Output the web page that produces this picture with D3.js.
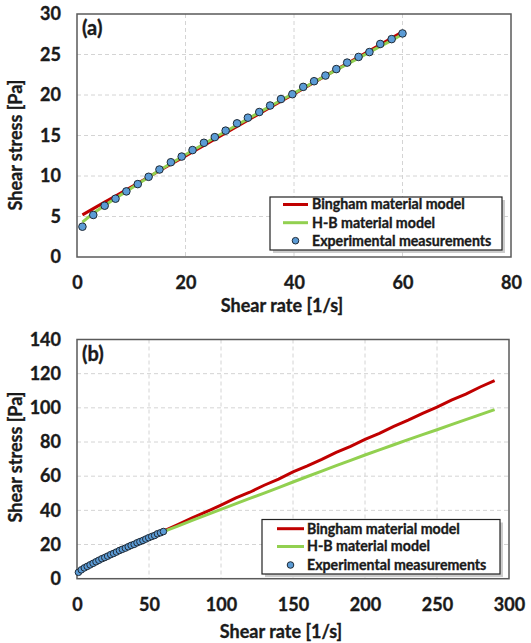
<!DOCTYPE html>
<html>
<head>
<meta charset="utf-8">
<script src="https://cdn.jsdelivr.net/npm/d3@7"></script>
<style>
  html, body { margin: 0; padding: 0; background: #fff; }
  svg text { font-family: Lato, "Open Sans", sans-serif; font-weight: 700; fill: #1a1a1a; stroke: #1a1a1a; stroke-width: 0.35px; }
</style>
</head>
<body>
<svg id="chart" width="531" height="643"></svg>
<script>
// ---- Data ----
const expRate = [1.0, 3.0, 5.1, 7.1, 9.1, 11.2, 13.2, 15.2, 17.3, 19.3, 21.3, 23.4, 25.4, 27.4, 29.5,
                 31.5, 33.6, 35.6, 37.6, 39.7, 41.7, 43.7, 45.8, 47.8, 49.8, 51.9, 53.9, 55.9, 58.0, 60.0];
const expStress = [3.74, 5.19, 6.33, 7.2, 8.1, 9.0, 9.9, 10.8, 11.7, 12.4, 13.2, 14.1, 14.8, 15.6, 16.5,
                   17.2, 17.9, 18.7, 19.5, 20.1, 21.0, 21.7, 22.4, 23.2, 24.0, 24.7, 25.3, 26.3, 26.9, 27.6];

// Model curves, panel (a): evaluated at the measured shear rates
const binghamA = [5.2, 5.97, 6.77, 7.54, 8.31, 9.11, 9.88, 10.64, 11.45, 12.21, 12.98, 13.78, 14.55, 15.31, 16.12,
                  16.88, 17.69, 18.45, 19.22, 20.02, 20.79, 21.56, 22.36, 23.13, 23.89, 24.70, 25.46, 26.23, 27.03, 27.8];
const hbA = [4.3, 5.4, 6.35, 7.25, 8.1, 9.0, 9.85, 10.7, 11.55, 12.35, 13.15, 13.95, 14.75, 15.5, 16.3,
             17.05, 17.85, 18.6, 19.35, 20.1, 20.85, 21.6, 22.35, 23.1, 23.8, 24.55, 25.3, 26.0, 26.75, 27.5];

// Model curves, panel (b): extrapolation beyond measured range
const extRate = [70, 80, 90, 100, 110, 120, 130, 140, 150, 160, 170, 180, 190, 200, 210, 220, 230, 240, 250, 260, 270, 280, 290];
const binghamExt = [31.6, 35.6, 39.2, 43.1, 47.1, 50.6, 54.7, 58.3, 62.5, 66.0, 69.8, 73.9, 77.5, 81.6, 85.1, 89.2, 92.8, 96.8, 100.4, 104.5, 108.0, 112.2, 115.9];
const hbExt = [30.8, 34.1, 37.4, 40.6, 43.8, 47.0, 50.1, 53.3, 56.6, 59.8, 63.0, 66.2, 69.3, 72.4, 75.4, 78.4, 81.4, 84.3, 87.2, 90.2, 93.1, 96.0, 99.0];

const xTicksA = [0, 20, 40, 60, 80];
const yTicksA = [0, 5, 10, 15, 20, 25, 30];
const xTicksB = [0, 50, 100, 150, 200, 250, 300];
const yTicksB = [0, 20, 40, 60, 80, 100, 120, 140];

const legendLabels = ["Bingham material model", "H-B material model", "Experimental measurements"];
const xTitle = "Shear rate [1/s]";
const yTitle = "Shear stress [Pa]";

const RED = "#c00000", GREEN = "#92d050", BLUE = "#5b9bd5";

const svg = d3.select("#chart");

function panel(cfg) {
  const g = svg.append("g");
  const x = d3.scaleLinear().domain(cfg.xDomain).range([cfg.left, cfg.right]);
  const y = d3.scaleLinear().domain(cfg.yDomain).range([cfg.bottom, cfg.top]);

  // grid
  g.append("g").selectAll("line").data(cfg.xTicks.slice(1, -1)).join("line")
    .attr("x1", d => x(d)).attr("x2", d => x(d)).attr("y1", cfg.top).attr("y2", cfg.bottom)
    .attr("stroke", "#d4d4d4").attr("stroke-width", 1).attr("stroke-dasharray", "4,3");
  g.append("g").selectAll("line").data(cfg.yTicks.slice(1, -1)).join("line")
    .attr("x1", cfg.left).attr("x2", cfg.right).attr("y1", d => y(d)).attr("y2", d => y(d))
    .attr("stroke", "#d4d4d4").attr("stroke-width", 1).attr("stroke-dasharray", "4,3");

  // axes (labels only)
  const xa = g.append("g").attr("transform", `translate(0,${cfg.bottom})`)
    .call(d3.axisBottom(x).tickValues(cfg.xTicks).tickSize(0).tickPadding(cfg.xPad));
  const ya = g.append("g").attr("transform", `translate(${cfg.left},0)`)
    .call(d3.axisLeft(y).tickValues(cfg.yTicks).tickSize(0).tickPadding(cfg.yPad));
  [xa, ya].forEach(a => {
    a.select(".domain").remove();
    a.selectAll("text").attr("font-size", 18).style("font-family", "Lato, sans-serif")
      .style("font-weight", 700).attr("fill", "#111").attr("stroke", "#111").attr("stroke-width", 0.35);
  });

  // frame
  g.append("rect").attr("x", cfg.left).attr("y", cfg.top)
    .attr("width", cfg.right - cfg.left).attr("height", cfg.bottom - cfg.top)
    .attr("fill", "none").attr("stroke", "#5a5a5a").attr("stroke-width", 1.5);

  // lines
  const line = d3.line().x(d => x(d[0])).y(d => y(d[1]));
  g.append("path").datum(cfg.bingham).attr("d", line)
    .attr("fill", "none").attr("stroke", RED).attr("stroke-width", 3);
  g.append("path").datum(cfg.hb).attr("d", line)
    .attr("fill", "none").attr("stroke", GREEN).attr("stroke-width", 3);

  // points
  g.append("g").selectAll("circle").data(d3.zip(expRate, expStress)).join("circle")
    .attr("cx", d => x(d[0])).attr("cy", d => y(d[1])).attr("r", cfg.r)
    .attr("fill", BLUE).attr("stroke", "#1f2a36").attr("stroke-width", 1);

  // panel label
  g.append("text").attr("x", cfg.left + 5).attr("y", cfg.top + 21)
    .attr("font-size", 20).text(cfg.label);

  // titles
  g.append("text").attr("x", (cfg.left + cfg.right) / 2 - 12).attr("y", cfg.xTitleY)
    .attr("text-anchor", "middle").attr("font-size", 18).text(xTitle);
  g.append("text").attr("transform", `translate(22,${cfg.yTitleY}) rotate(-90)`)
    .attr("text-anchor", "middle").attr("font-size", 18).text(yTitle);

  // legend
  const L = cfg.legend;
  const lg = g.append("g");
  lg.append("rect").attr("x", L.x + 3).attr("y", L.y + 3).attr("width", L.w).attr("height", L.h)
    .attr("fill", "#bfbfbf").attr("opacity", 0.8);
  lg.append("rect").attr("x", L.x).attr("y", L.y).attr("width", L.w).attr("height", L.h)
    .attr("fill", "#fff").attr("stroke", "#222").attr("stroke-width", 1.2);
  const colors = [RED, GREEN];
  legendLabels.forEach((lab, i) => {
    const ry = L.rows[i];
    if (i < 2) {
      lg.append("line").attr("x1", L.lx1).attr("x2", L.lx2).attr("y1", ry).attr("y2", ry)
        .attr("stroke", colors[i]).attr("stroke-width", 3);
    } else {
      lg.append("circle").attr("cx", (L.lx1 + L.lx2) / 2).attr("cy", ry).attr("r", 3.3)
        .attr("fill", BLUE).attr("stroke", "#1f2a36").attr("stroke-width", 1);
    }
    lg.append("text").attr("x", L.tx).attr("y", ry).attr("dy", "0.35em")
      .attr("font-size", 14.2).text(lab);
  });
}

panel({
  label: "(a)",
  xDomain: [0, 80], yDomain: [0, 30],
  left: 77, right: 511, top: 14, bottom: 257,
  xTicks: xTicksA, yTicks: yTicksA, xPad: 19, yPad: 16,
  bingham: d3.zip(expRate, binghamA), hb: d3.zip(expRate, hbA), r: 3.8,
  xTitleY: 312, yTitleY: 145,
  legend: { x: 270, y: 197, w: 232, h: 53, rows: [204.5, 222.7, 240.7], lx1: 283, lx2: 308, tx: 312 }
});

panel({
  label: "(b)",
  xDomain: [0, 300], yDomain: [0, 140],
  left: 77, right: 509, top: 339.5, bottom: 578.7,
  xTicks: xTicksB, yTicks: yTicksB, xPad: 20, yPad: 16,
  bingham: d3.zip(expRate, binghamA).concat(d3.zip(extRate, binghamExt)),
  hb: d3.zip(expRate, hbA).concat(d3.zip(extRate, hbExt)), r: 3.3,
  xTitleY: 638, yTitleY: 457,
  legend: { x: 262, y: 519.5, w: 238, h: 54.5, rows: [528.7, 546.5, 565], lx1: 277, lx2: 304, tx: 307 }
});
</script>
</body>
</html>
